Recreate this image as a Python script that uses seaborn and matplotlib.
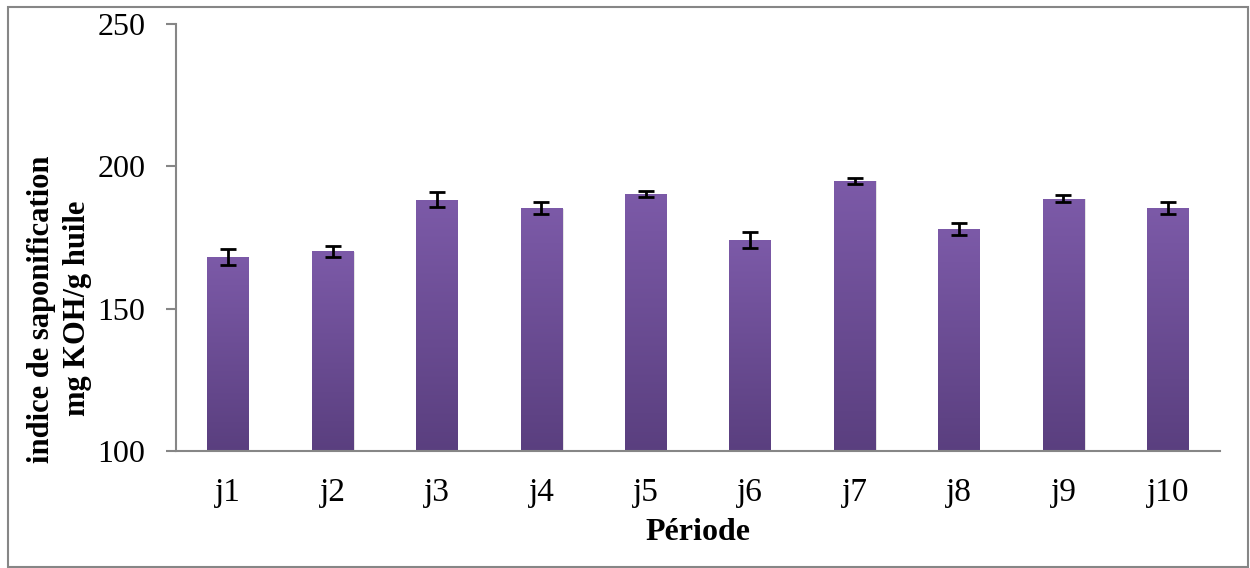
import numpy as np
import pandas as pd
import matplotlib
matplotlib.use('Agg')
import matplotlib.pyplot as plt
import matplotlib.colors as mcolors
from matplotlib.patches import Rectangle
import seaborn as sns

periods = ['j1', 'j2', 'j3', 'j4', 'j5', 'j6', 'j7', 'j8', 'j9', 'j10']
indice = [168.2, 170.1, 188.3, 185.4, 190.3, 174.1, 195.0, 177.9, 188.7, 185.4]
ecart = [2.7, 2.0, 2.7, 2.2, 1.1, 2.7, 1.05, 2.1, 1.1, 2.2]
y_ticks = [100, 150, 200, 250]

sns.set_style('white')
plt.rcParams['font.family'] = ['Liberation Serif', 'DejaVu Serif']
plt.rcParams['text.color'] = 'black'
plt.rcParams['axes.labelcolor'] = 'black'
plt.rcParams['xtick.labelcolor'] = 'black'
plt.rcParams['ytick.labelcolor'] = 'black'

df = pd.DataFrame({'periode': periods, 'indice': indice})

fig = plt.figure(figsize=(12.5, 5.68), dpi=100)
ax = fig.add_axes([176 / 1250, 1 - 451 / 568, (1220 - 176) / 1250, (451 - 24) / 568])

sns.barplot(data=df, x='periode', y='indice', color='#6e4f98', width=0.4,
            errorbar=None, ax=ax, zorder=2)
ax.set_ylim(100, 250)
ax.set_xlim(-0.5, len(periods) - 0.5)

# vertical gradient inside each bar (lighter top, darker bottom)
cmap = mcolors.LinearSegmentedColormap.from_list('grad', ['#5a3f7f', '#7c5aa8'])
grad = np.linspace(0, 1, 256).reshape(-1, 1)
for p in ax.patches:
    x0 = p.get_x()
    w = p.get_width()
    top = p.get_height()
    # soft shadow
    ax.add_patch(Rectangle((x0 + 0.012, 100), w, top - 100 - 0.3, facecolor='#c8c8c8',
                           edgecolor='none', zorder=1.5, alpha=0.6))
    im = ax.imshow(grad, extent=[x0, x0 + w, 100, top], origin='lower', cmap=cmap,
                   aspect='auto', zorder=2.5)
    im.set_clip_path(p)

ax.errorbar(np.arange(len(periods)), indice, yerr=ecart, fmt='none', ecolor='black',
            elinewidth=2, capsize=6, capthick=2, zorder=4)

ax.set_yticks(y_ticks)
ax.set_yticklabels([str(t) for t in y_ticks], fontsize=23)
ax.set_xticks(range(len(periods)))
ax.set_xticklabels(periods, fontsize=24)
ax.set_xticks(np.arange(-0.5, len(periods)), minor=True)
ax.tick_params(axis='x', which='major', length=0, pad=19)
ax.tick_params(axis='x', which='minor', length=7, width=1.5, color='#868686', direction='out')
ax.tick_params(axis='y', length=7, width=1.5, color='#868686', direction='out', pad=15,
               left=True)

for side in ['top', 'right']:
    ax.spines[side].set_visible(False)
for side in ['left', 'bottom']:
    ax.spines[side].set_color('#868686')
    ax.spines[side].set_linewidth(1.5)

ax.set_xlabel('Période', fontsize=23, fontweight='bold', labelpad=7)
ax.set_ylabel('indice de saponification\nmg KOH/g huile', fontsize=22, fontweight='bold',
              linespacing=1.35)
ax.yaxis.set_label_coords(-0.08, 0.333)

# outer chart border
fig.add_artist(Rectangle((8 / 1250, 1 / 568), 1240 / 1250, 560 / 568, transform=fig.transFigure,
                         fill=False, edgecolor='#868686', linewidth=1.5))

fig.savefig('out.png', dpi=100)
